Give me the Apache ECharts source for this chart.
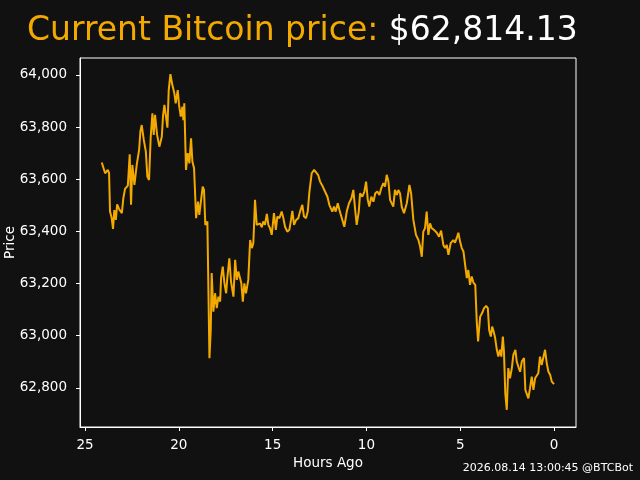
<!DOCTYPE html>
<html>
<head>
<meta charset="utf-8">
<script src="https://cdn.jsdelivr.net/npm/echarts@6/dist/echarts.min.js"></script>
<style>
html,body{margin:0;padding:0;background:#111111;}
#c{width:640px;height:480px;}
</style>
</head>
<body>
<div id="c"></div>
<script>
const titleLabel = "Current Bitcoin price: ";
const currentPrice = "$62,814.13";
const footer = "2026.08.14 13:00:45 @BTCBot";
const xTicks = [0, 5, 10, 15, 20, 25];
const yTicks = [62800, 63000, 63200, 63400, 63600, 63800, 64000];

const hoursAgo = [
24.11,24.02,23.93,23.79,23.72,23.67,23.58,23.51,23.44,23.36,23.29,23.19,23.04,22.96,22.87,22.72,22.62,22.55,22.48,22.37,
22.24,22.12,22.05,21.98,21.87,21.76,21.68,21.59,21.50,21.41,21.34,21.27,21.16,21.04,20.91,20.84,20.77,20.68,20.61,20.54,
20.45,20.35,20.24,20.17,20.06,19.99,19.90,19.81,19.76,19.71,19.62,19.53,19.44,19.35,19.28,19.19,19.08,18.98,18.91,18.73,
18.66,18.59,18.48,18.37,18.30,18.25,18.16,18.07,17.98,17.89,17.80,17.75,17.66,17.57,17.48,17.41,17.31,17.22,17.09,17.00,
16.91,16.83,16.74,16.67,16.59,16.51,16.42,16.30,16.20,16.11,16.03,15.94,15.85,15.76,15.67,15.58,15.50,15.41,15.31,15.23,
15.14,15.05,14.93,14.83,14.75,14.64,14.52,14.43,14.34,14.22,14.11,14.02,13.95,13.86,13.75,13.63,13.54,13.42,13.33,13.22,
13.13,13.04,12.92,12.79,12.69,12.58,12.47,12.33,12.21,12.08,11.98,11.89,11.82,11.73,11.64,11.53,11.44,11.34,11.18,11.05,
10.93,10.80,10.70,10.61,10.52,10.41,10.34,10.22,10.11,10.02,9.93,9.85,9.74,9.63,9.53,9.42,9.31,9.21,9.10,9.01,
8.92,8.83,8.74,8.65,8.57,8.48,8.38,8.30,8.21,8.12,8.00,7.85,7.71,7.62,7.50,7.36,7.23,7.14,7.05,6.97,
6.88,6.79,6.70,6.61,6.52,6.40,6.25,6.13,6.02,5.90,5.81,5.72,5.63,5.51,5.37,5.28,5.19,5.10,5.01,4.92,
4.83,4.74,4.65,4.57,4.48,4.39,4.30,4.20,4.12,4.05,3.94,3.84,3.73,3.62,3.53,3.46,3.37,3.30,3.24,3.14,
3.05,2.97,2.88,2.81,2.73,2.67,2.60,2.52,2.44,2.35,2.25,2.17,2.06,1.99,1.88,1.81,1.72,1.60,1.53,1.46,
1.37,1.28,1.19,1.10,1.01,0.92,0.84,0.75,0.66,0.57,0.48,0.39,0.30,0.21,0.12,0.00
];
const price = [
63664,63658,63623,63636,63624,63476,63451,63410,63482,63444,63504,63486,63470,63527,63563,63576,63696,63502,63655,63578,
63659,63712,63783,63808,63751,63706,63610,63597,63763,63853,63770,63847,63770,63725,63763,63847,63885,63878,63798,63942,
64003,63962,63930,63891,63942,63885,63840,63878,63827,63891,63636,63700,63661,63757,63668,63642,63451,63514,63463,63572,
63559,63425,63438,62914,63022,63240,63092,63163,63106,63150,63131,63221,63265,63201,63163,63227,63297,63208,63150,63291,
63214,63246,63252,63201,63131,63201,63163,63214,63367,63336,63355,63521,63425,63418,63431,63416,63438,63425,63467,63425,
63412,63387,63470,63406,63457,63451,63476,63451,63418,63399,63406,63444,63479,63425,63444,63451,63476,63502,63457,63451,
63476,63553,63623,63636,63642,63617,63591,63572,63553,63533,63502,63508,63476,63495,63476,63508,63482,63457,63418,63476,
63508,63527,63559,63489,63425,63476,63546,63533,63553,63591,63521,63495,63533,63514,63546,63553,63540,63566,63585,63572,
63617,63591,63521,63521,63495,63559,63540,63559,63546,63495,63470,63508,63578,63546,63444,63387,63367,63342,63303,63399,
63412,63476,63387,63431,63412,63406,63395,63380,63403,63348,63336,63348,63310,63355,63367,63357,63374,63395,63361,63336,
63323,63272,63221,63252,63195,63227,63204,63195,63054,62978,63073,63086,63106,63114,63106,63022,62997,63035,63022,62991,
62946,62920,62946,62920,62997,62939,62780,62716,62876,62837,62876,62927,62946,62901,62876,62862,62901,62914,62792,62786,
62760,62799,62843,62792,62837,62843,62856,62920,62888,62882,62946,62895,62862,62850,62824,62814.13
];

const orange = '#f2a900';
const fontFam = '"DejaVu Sans", sans-serif';
const chart = echarts.init(document.getElementById('c'), null, {renderer: 'canvas'});
chart.setOption({
  backgroundColor: '#111111',
  animation: false,
  title: {
    text: '{a|' + titleLabel + '}{b|' + currentPrice + '}',
    left: 22, top: 10,
    textStyle: {
      fontWeight: 'normal',
      rich: {
        a: {color: orange, fontSize: 33, fontFamily: fontFam, fontWeight: 'normal'},
        b: {color: '#ffffff', fontSize: 33, fontFamily: fontFam, fontWeight: 'normal'}
      }
    }
  },
  graphic: [{
    type: 'text', right: 7, top: 463,
    style: {text: footer, fill: '#ffffff', font: '11px "DejaVu Sans"'}
  }],
  grid: {left: 80, right: 64, top: 58, bottom: 53, containLabel: false, outerBoundsMode: 'none',
    show: true, borderColor: '#ffffff', borderWidth: 1, backgroundColor: 'transparent'},
  xAxis: {
    type: 'value', inverse: true, min: -1.17, max: 25.27,
    name: 'Hours Ago', nameLocation: 'middle', nameGap: 29, nameMoveOverlap: false,
    nameTextStyle: {color: '#ffffff', fontSize: 13.5, fontFamily: fontFam},
    axisLine: {show: true, onZero: false, lineStyle: {color: '#ffffff', width: 1}},
    axisTick: {show: true, length: 4, lineStyle: {color: '#ffffff'}, customValues: xTicks},
    axisLabel: {color: '#ffffff', fontSize: 13.5, fontFamily: fontFam, margin: 11, customValues: xTicks},
    splitLine: {show: false}
  },
  yAxis: {
    type: 'value', min: 62650, max: 64065,
    name: 'Price', nameLocation: 'middle', nameGap: 63, nameRotate: 90, nameMoveOverlap: false,
    nameTextStyle: {color: '#ffffff', fontSize: 13.5, fontFamily: fontFam},
    axisLine: {show: true, onZero: false, lineStyle: {color: '#ffffff', width: 1}},
    axisTick: {show: true, length: 4, lineStyle: {color: '#ffffff'}, customValues: yTicks},
    axisLabel: {color: '#ffffff', fontSize: 13.5, fontFamily: fontFam, margin: 13, customValues: yTicks,
      formatter: v => v.toLocaleString('en-US')},
    splitLine: {show: false}
  },
  series: [{
    type: 'line',
    data: hoursAgo.map((h, i) => [h, price[i]]),
    showSymbol: false,
    lineStyle: {color: orange, width: 2},
    itemStyle: {color: orange}
  }]
});
</script>
</body>
</html>
